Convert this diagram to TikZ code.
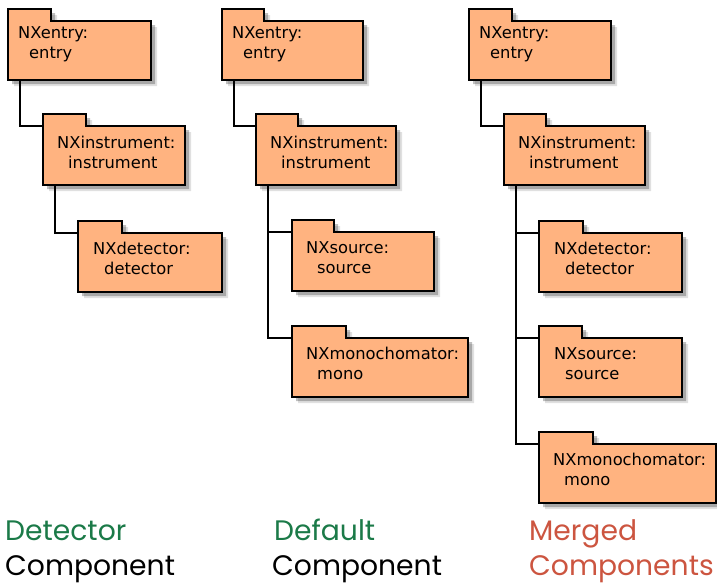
\documentclass[tikz,border=0pt]{standalone}
\usepackage{fontspec}
\newfontfamily\lblfont{DejaVu Sans}
\newfontfamily\capfont{Poppins}
\usetikzlibrary{shadows}
\definecolor{cfolder}{HTML}{FFB380}
\definecolor{cgreen}{HTML}{1B7A48}
\definecolor{cred}{HTML}{CC5540}
\tikzset{
  every picture/.style={x=1pt, y=-1pt},
  body/.style={anchor=north west, minimum height=59pt, inner sep=0pt, outer sep=0pt},
  folder/.style={draw=black, fill=cfolder, line width=1.6pt, line join=miter,
    drop shadow={shadow xshift=6pt, shadow yshift=-6pt, opacity=0.12, fill=black},
    drop shadow={shadow xshift=4pt, shadow yshift=-4pt, opacity=0.25, fill=black}},
  lbl/.style={anchor=base west, inner sep=0pt, font=\lblfont\fontsize{16.3}{19}\selectfont},
  link/.style={draw=black, line width=1.2pt},
  caption/.style={anchor=base west, inner sep=0pt, font=\capfont\fontsize{28.2}{34}\selectfont},
}
\begin{document}
\begin{tikzpicture}
  \useasboundingbox (0,0) rectangle (717,584);
  % folders: name/x/y/width/tab/text dx/text dy/class/instance
  \foreach \n/\x/\y/\w/\t/\dx/\dy/\a/\b in {
      e1/8/21/143/43/10/17/NXentry/entry,
      i1/43/126/142/43/14/22/NXinstrument/instrument,
      d1/78/233/144/44/15/21/NXdetector/detector,
      e2/222/21/141/42/10/17/NXentry/entry,
      i2/256/126/140/42/14/22/NXinstrument/instrument,
      s2/292/232/142/42/14/21/NXsource/source,
      m2/292/338/176/54/14/21/NXmonochomator/mono,
      e3/469/21/142/43/10/17/NXentry/entry,
      i3/504/126/141/42/14/22/NXinstrument/instrument,
      d3/539/233/143/44/15/21/NXdetector/detector,
      s3/539/338/143/43/15/21/NXsource/source,
      m3/539/444/177/54/14/21/NXmonochomator/mono} {
    \node[body, minimum width=\w pt] (\n) at (\x,\y) {};
    \path[folder] (\n.north west) -- ++(0,-12) -- ++(\t,0) -- ++(0,12) -- (\n.north east)
      -- (\n.south east) -- (\n.south west) -- cycle;
    \node[lbl] (\n-a) at ([xshift=\dx pt, yshift=-\dy pt]\n.north west) {\a:};
    \node[lbl] (\n-b) at ([xshift=11pt, yshift=-20pt]\n-a.base west) {\b};
  }
  % tree links
  \foreach \p/\c in {e1/i1, i1/d1, e2/i2, i2/s2, i2/m2, e3/i3, i3/d3, i3/s3, i3/m3}
    \draw[link] ([xshift=12pt]\p.south west) |- (\c.north west);
  % captions
  \node[caption, text=cgreen] (t1) at (5,540) {Detector};
  \node[caption] (u1) at (5,575) {Component};
  \node[caption, text=cgreen] (t2) at (274,540) {Default};
  \node[caption] (u2) at (272,575) {Component};
  \node[caption, text=cred] (t3) at (529,540) {Merged};
  \node[caption, text=cred] (u3) at (529,575) {Components};
\end{tikzpicture}
\end{document}
